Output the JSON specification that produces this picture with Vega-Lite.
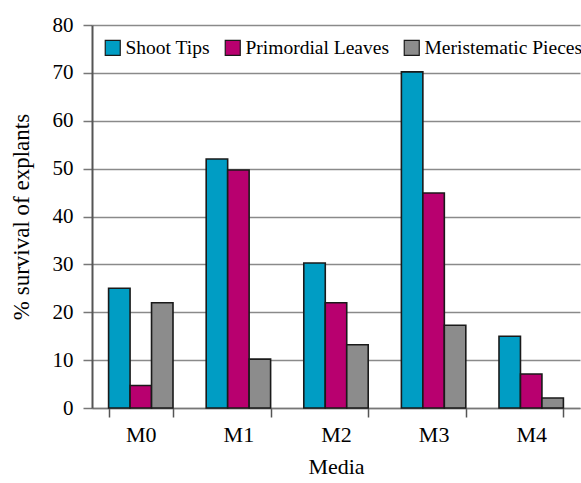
{
  "$schema": "https://vega.github.io/schema/vega-lite/v6.json",
  "width": 488,
  "height": 383,
  "autosize": {"type": "none"},
  "padding": {"left": 92, "top": 25, "right": 1, "bottom": 75},
  "background": "white",
  "config": {
    "view": {"stroke": null},
    "font": "Liberation Serif",
    "axis": {"labelFont": "Liberation Serif", "titleFont": "Liberation Serif", "labelColor": "black", "titleColor": "black", "titleFontWeight": "normal"},
    "legend": {"labelFont": "Liberation Serif"}
  },
  "data": {
    "values": [
      {"media": "M0", "type": "Shoot Tips", "value": 25},
      {"media": "M0", "type": "Primordial Leaves", "value": 4.7},
      {"media": "M0", "type": "Meristematic Pieces", "value": 22},
      {"media": "M1", "type": "Shoot Tips", "value": 52},
      {"media": "M1", "type": "Primordial Leaves", "value": 49.7},
      {"media": "M1", "type": "Meristematic Pieces", "value": 10.2},
      {"media": "M2", "type": "Shoot Tips", "value": 30.3},
      {"media": "M2", "type": "Primordial Leaves", "value": 22},
      {"media": "M2", "type": "Meristematic Pieces", "value": 13.2},
      {"media": "M3", "type": "Shoot Tips", "value": 70.2},
      {"media": "M3", "type": "Primordial Leaves", "value": 44.9},
      {"media": "M3", "type": "Meristematic Pieces", "value": 17.3},
      {"media": "M4", "type": "Shoot Tips", "value": 15},
      {"media": "M4", "type": "Primordial Leaves", "value": 7.1},
      {"media": "M4", "type": "Meristematic Pieces", "value": 2.1}
    ]
  },
  "mark": {"type": "bar", "stroke": "#1a1a1a", "strokeWidth": 1.6, "opacity": 1},
  "encoding": {
    "x": {
      "field": "media", "type": "nominal", "title": "Media",
      "scale": {"paddingInner": 0.34, "paddingOuter": 0.17},
      "axis": {
        "labelAngle": 0, "labelFontSize": 22, "titleFontSize": 22,
        "tickBand": "extent", "tickSize": 9, "tickColor": "#555", "tickWidth": 1.5,
        "domainColor": "#777", "domainWidth": 1.5,
        "labelPadding": 7, "titlePadding": 11
      }
    },
    "xOffset": {"field": "type", "type": "nominal", "sort": ["Shoot Tips", "Primordial Leaves", "Meristematic Pieces"]},
    "y": {
      "field": "value", "type": "quantitative", "title": "% survival of explants",
      "scale": {"domain": [0, 80]},
      "axis": {
        "values": [0, 10, 20, 30, 40, 50, 60, 70, 80],
        "labelFontSize": 21, "titleFontSize": 23,
        "grid": true, "gridColor": "#8a8a8a", "gridWidth": 1.5,
        "tickSize": 9, "tickColor": "#777", "tickWidth": 1.5,
        "domainColor": "#555", "domainWidth": 2,
        "labelPadding": 10, "titlePadding": 19
      }
    },
    "color": {
      "field": "type", "type": "nominal",
      "sort": ["Shoot Tips", "Primordial Leaves", "Meristematic Pieces"],
      "scale": {"domain": ["Shoot Tips", "Primordial Leaves", "Meristematic Pieces"], "range": ["#009DC4", "#B8006F", "#8C8C8C"]},
      "legend": {
        "title": null, "orient": "none", "legendX": 11, "legendY": 13,
        "direction": "horizontal", "columns": 3,
        "symbolType": "square", "symbolSize": 225, "symbolStrokeColor": "#1a1a1a", "symbolStrokeWidth": 1.2, "symbolOpacity": 1,
        "labelFontSize": 19.5, "labelColor": "black", "labelOffset": 3, "columnPadding": 12, "labelLimit": 300
      }
    }
  }
}
